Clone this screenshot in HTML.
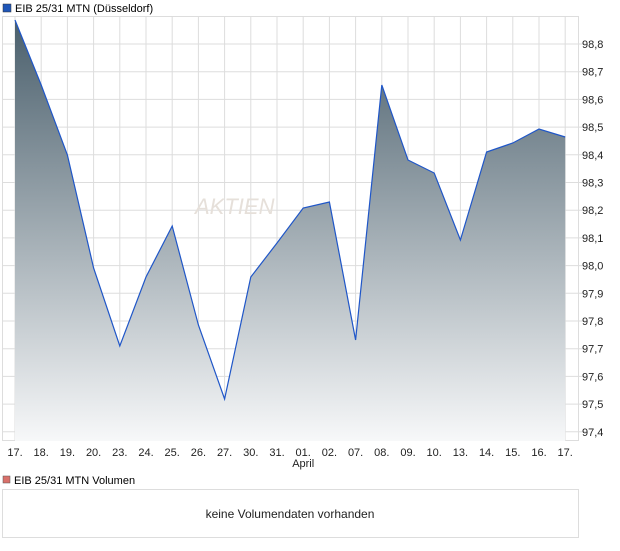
<!DOCTYPE html>
<html><head><meta charset="utf-8"><style>
body{margin:0;background:#fff;font-family:"Liberation Sans",sans-serif;}
</style></head><body>
<svg width="620" height="546" xmlns="http://www.w3.org/2000/svg" font-family="Liberation Sans, sans-serif" font-size="11">
<defs><linearGradient id="g" x1="0" y1="0" x2="0" y2="1">
<stop offset="0" stop-color="#4a5f6c"/><stop offset="1" stop-color="#f7f8f9"/></linearGradient></defs>
<rect x="3" y="4" width="8" height="8" fill="#1f56b8" stroke="#333" stroke-width="0.5"/>
<text x="15" y="12">EIB 25/31 MTN (Düsseldorf)</text>
<g stroke="#dddddd" stroke-width="1">
<rect x="2.5" y="16.5" width="576" height="424" fill="#fff"/>
<g id="v"></g>
</g>
<g stroke="#dddddd">
<line x1="2" y1="44" x2="586" y2="44"/><line x1="2" y1="71.7" x2="586" y2="71.7"/><line x1="2" y1="99.4" x2="586" y2="99.4"/><line x1="2" y1="127.1" x2="586" y2="127.1"/><line x1="2" y1="154.8" x2="586" y2="154.8"/><line x1="2" y1="182.5" x2="586" y2="182.5"/><line x1="2" y1="210.2" x2="586" y2="210.2"/><line x1="2" y1="237.9" x2="586" y2="237.9"/><line x1="2" y1="265.6" x2="586" y2="265.6"/><line x1="2" y1="293.3" x2="586" y2="293.3"/><line x1="2" y1="321" x2="586" y2="321"/><line x1="2" y1="348.7" x2="586" y2="348.7"/><line x1="2" y1="376.4" x2="586" y2="376.4"/><line x1="2" y1="404.1" x2="586" y2="404.1"/><line x1="2" y1="431.8" x2="586" y2="431.8"/>
<line x1="15" y1="16" x2="15" y2="441"/><line x1="41.2" y1="16" x2="41.2" y2="441"/><line x1="67.4" y1="16" x2="67.4" y2="441"/><line x1="93.6" y1="16" x2="93.6" y2="441"/><line x1="119.8" y1="16" x2="119.8" y2="441"/><line x1="146" y1="16" x2="146" y2="441"/><line x1="172.2" y1="16" x2="172.2" y2="441"/><line x1="198.4" y1="16" x2="198.4" y2="441"/><line x1="224.6" y1="16" x2="224.6" y2="441"/><line x1="250.8" y1="16" x2="250.8" y2="441"/><line x1="277" y1="16" x2="277" y2="441"/><line x1="303.2" y1="16" x2="303.2" y2="441"/><line x1="329.4" y1="16" x2="329.4" y2="441"/><line x1="355.6" y1="16" x2="355.6" y2="441"/><line x1="381.8" y1="16" x2="381.8" y2="441"/><line x1="408" y1="16" x2="408" y2="441"/><line x1="434.2" y1="16" x2="434.2" y2="441"/><line x1="460.4" y1="16" x2="460.4" y2="441"/><line x1="486.6" y1="16" x2="486.6" y2="441"/><line x1="512.8" y1="16" x2="512.8" y2="441"/><line x1="539" y1="16" x2="539" y2="441"/><line x1="565.2" y1="16" x2="565.2" y2="441"/>
</g>
<text x="195" y="214" font-size="22" font-style="italic" fill="#e6e0da">AKTIEN</text>
<polygon points="15,20 41.2,85 67.4,155 93.6,268 119.8,346 146,277 172.2,226 198.4,325 224.6,399 250.8,277 277,243 303.2,208 329.4,202 355.6,340 381.8,85 408,160 434.2,173 460.4,240 486.6,152 512.8,143 539,129 565.2,137 565.2,441 15,441" fill="url(#g)"/>
<polyline points="15,20 41.2,85 67.4,155 93.6,268 119.8,346 146,277 172.2,226 198.4,325 224.6,399 250.8,277 277,243 303.2,208 329.4,202 355.6,340 381.8,85 408,160 434.2,173 460.4,240 486.6,152 512.8,143 539,129 565.2,137" fill="none" stroke="#1f56c8" stroke-width="1.2"/>
<g fill="#222" font-size="11">
<text x="582" y="48">98,8</text><text x="582" y="75.7">98,7</text><text x="582" y="103.4">98,6</text><text x="582" y="131.1">98,5</text><text x="582" y="158.8">98,4</text><text x="582" y="186.5">98,3</text><text x="582" y="214.2">98,2</text><text x="582" y="241.9">98,1</text><text x="582" y="269.6">98,0</text><text x="582" y="297.3">97,9</text><text x="582" y="325">97,8</text><text x="582" y="352.7">97,7</text><text x="582" y="380.4">97,6</text><text x="582" y="408.1">97,5</text><text x="582" y="435.8">97,4</text>
</g>
<g fill="#222" font-size="11" text-anchor="middle">
<text x="15" y="456">17.</text><text x="41.2" y="456">18.</text><text x="67.4" y="456">19.</text><text x="93.6" y="456">20.</text><text x="119.8" y="456">23.</text><text x="146" y="456">24.</text><text x="172.2" y="456">25.</text><text x="198.4" y="456">26.</text><text x="224.6" y="456">27.</text><text x="250.8" y="456">30.</text><text x="277" y="456">31.</text><text x="303.2" y="456">01.</text><text x="329.4" y="456">02.</text><text x="355.6" y="456">07.</text><text x="381.8" y="456">08.</text><text x="408" y="456">09.</text><text x="434.2" y="456">10.</text><text x="460.4" y="456">13.</text><text x="486.6" y="456">14.</text><text x="512.8" y="456">15.</text><text x="539" y="456">16.</text><text x="565.2" y="456">17.</text>
<text x="303.2" y="467">April</text>
</g>
<rect x="3" y="476" width="7" height="7" fill="#d9706a" stroke="#555" stroke-width="0.5"/>
<text x="14" y="484" font-size="11">EIB 25/31 MTN Volumen</text>
<rect x="2.5" y="489.5" width="576" height="48" fill="#fff" stroke="#dddddd"/>
<text x="290" y="518" text-anchor="middle" font-size="12" fill="#222">keine Volumendaten vorhanden</text>
</svg>
</body></html>
